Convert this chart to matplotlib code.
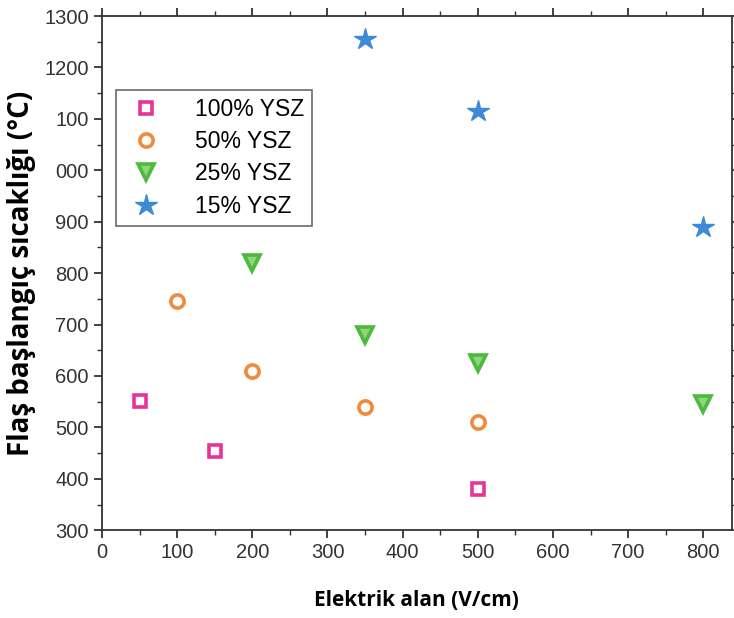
import numpy as np
import matplotlib
matplotlib.use("Agg")
import matplotlib.pyplot as plt
from matplotlib.ticker import MultipleLocator

# data
x_100 = [50, 150, 500]
y_100 = [551, 455, 380]
x_50 = [100, 200, 350, 500]
y_50 = [746, 610, 539, 510]
x_25 = [200, 350, 500, 800]
y_25 = [820, 680, 625, 545]
x_15 = [350, 500, 800]
y_15 = [1255, 1115, 890]

labels = ["100% YSZ", "50% YSZ", "25% YSZ", "15% YSZ"]
y_ticks = [300, 400, 500, 600, 700, 800, 900, 1000, 1100, 1200, 1300]
y_ticklabels = ["300", "400", "500", "600", "700", "800", "900", "000", "100", "1200", "1300"]

plt.rcParams['font.family'] = ['Liberation Sans', 'DejaVu Sans']

fig = plt.figure(figsize=(7.34, 6.18), dpi=100)
ax = fig.add_axes([0.139, 0.142, 0.858, 0.832])

ax.plot(x_100, y_100, ls='none', marker='s', ms=8.5, mfc='white', mec='#e8339b', mew=2.6, label=labels[0])
ax.plot(x_50, y_50, ls='none', marker='o', ms=9.5, mfc='white', mec='#f08a3c', mew=2.6, label=labels[1])
ax.plot(x_25, y_25, ls='none', marker='v', ms=12, mfc='#8fd47f', mec='#4cba3c', mew=2.6, label=labels[2])
ax.plot(x_15, y_15, ls='none', marker='*', ms=16, mfc='#3d8ad6', mec='#3d8ad6', mew=1.0, label=labels[3])

ax.set_xlim(0, 838)
ax.set_ylim(300, 1300)
ax.xaxis.set_major_locator(MultipleLocator(100))
ax.xaxis.set_minor_locator(MultipleLocator(50))
ax.set_yticks(y_ticks)
ax.set_yticklabels(y_ticklabels)
ax.yaxis.set_minor_locator(MultipleLocator(50))

ax.tick_params(which='both', direction='out', top=True, right=True, labelsize=14.5, colors='#333333')
ax.tick_params(which='major', length=6, width=1.3)
ax.tick_params(which='minor', length=3.5, width=1.0)
for s in ax.spines.values():
    s.set_linewidth(1.3)
    s.set_color('#333333')

ax.set_xlabel("Elektrik alan (V/cm)", fontsize=15, fontweight='bold', family=['Open Sans', 'DejaVu Sans'], labelpad=20)
ax.set_ylabel("Flaş başlangıç sıcaklığı (°C)", fontsize=20, fontweight='bold', family=['Open Sans', 'DejaVu Sans'], labelpad=6)

leg = ax.legend(loc='upper left', bbox_to_anchor=(0.022, 0.856), fontsize=16.5, frameon=True,
                fancybox=False, edgecolor='#444444', handletextpad=1.2, labelspacing=0.4,
                borderpad=0.35, handlelength=1.9, borderaxespad=0)
leg.get_frame().set_linewidth(1.2)

fig.savefig("out.png", dpi=100)
